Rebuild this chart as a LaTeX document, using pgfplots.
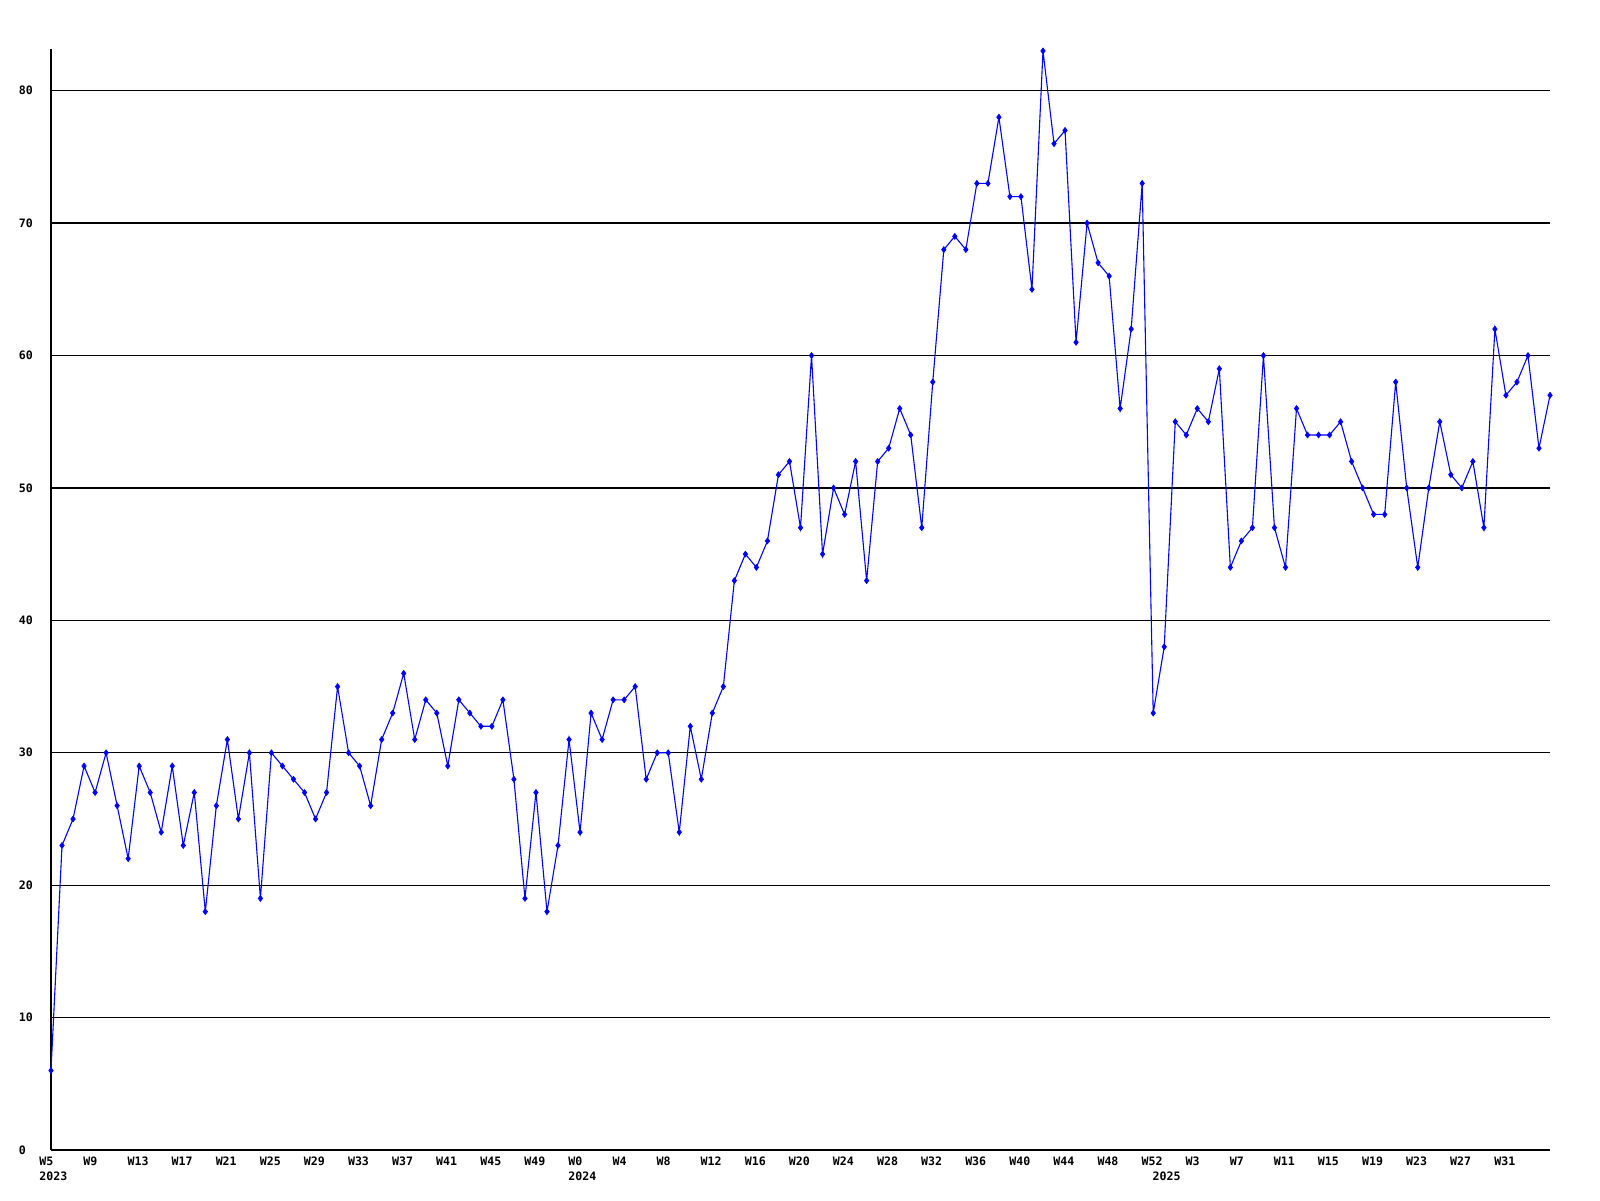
\documentclass[border=0pt]{standalone}
\usepackage{fontspec}
\setmainfont{DejaVu Sans Mono}
\usepackage{pgfplots}
\pgfplotsset{compat=1.18}

% weekly counts, index 0 = 2023 W5
\pgfplotstableread{
i v
0 6
1 23
2 25
3 29
4 27
5 30
6 26
7 22
8 29
9 27
10 24
11 29
12 23
13 27
14 18
15 26
16 31
17 25
18 30
19 19
20 30
21 29
22 28
23 27
24 25
25 27
26 35
27 30
28 29
29 26
30 31
31 33
32 36
33 31
34 34
35 33
36 29
37 34
38 33
39 32
40 32
41 34
42 28
43 19
44 27
45 18
46 23
47 31
48 24
49 33
50 31
51 34
52 34
53 35
54 28
55 30
56 30
57 24
58 32
59 28
60 33
61 35
62 43
63 45
64 44
65 46
66 51
67 52
68 47
69 60
70 45
71 50
72 48
73 52
74 43
75 52
76 53
77 56
78 54
79 47
80 58
81 68
82 69
83 68
84 73
85 73
86 78
87 72
88 72
89 65
90 83
91 76
92 77
93 61
94 70
95 67
96 66
97 56
98 62
99 73
100 33
101 38
102 55
103 54
104 56
105 55
106 59
107 44
108 46
109 47
110 60
111 47
112 44
113 56
114 54
115 54
116 54
117 55
118 52
119 50
120 48
121 48
122 58
123 50
124 44
125 50
126 55
127 51
128 50
129 52
130 47
131 62
132 57
133 58
134 60
135 53
136 57
}\weekly

\begin{document}
\begin{tikzpicture}[x=1pt,y=1pt]
\begin{axis}[
    at={(0,0)}, anchor=south west,
    scale only axis,
    width=749.5pt, height=550.5pt,
    xmin=0, xmax=136,
    ymin=0, ymax=83.15,
    axis x line=bottom, axis y line=left,
    axis line style={-, black, line width=0.65pt},
    major tick length=0pt,
    ymajorgrids,
    major grid style={black, line width=0.65pt},
    ytick={0,10,...,80},
    xtick={0,4,...,132},
    xticklabels={W5,W9,W13,W17,W21,W25,W29,W33,W37,W41,W45,W49,
                 W0,W4,W8,W12,W16,W20,W24,W28,W32,W36,W40,W44,W48,W52,
                 W3,W7,W11,W15,W19,W23,W27,W31},
    extra x ticks={0,48,101},
    extra x tick labels={2023,2024,2025},
    extra x tick style={xticklabel style={yshift=-7.75pt}},
    /pgf/number format/assume math mode=true,
    ticklabel style={font=\bfseries\fontsize{5.8}{6}\selectfont, inner sep=0pt},
    xticklabel style={anchor=west, xshift=-6pt, yshift=-5.5pt},
    yticklabel style={anchor=west, xshift=-16.25pt},
    clip=false,
]
\addplot[blue, line width=0.55pt, mark=diamond*, mark size=1.5pt,
         mark options={fill=blue, draw=blue, line width=0.3pt}]
    table[x=i, y=v] {\weekly};
\end{axis}
\pgfresetboundingbox
\useasboundingbox (-25.5,-25) rectangle (774.5,575);
\end{tikzpicture}
\end{document}
